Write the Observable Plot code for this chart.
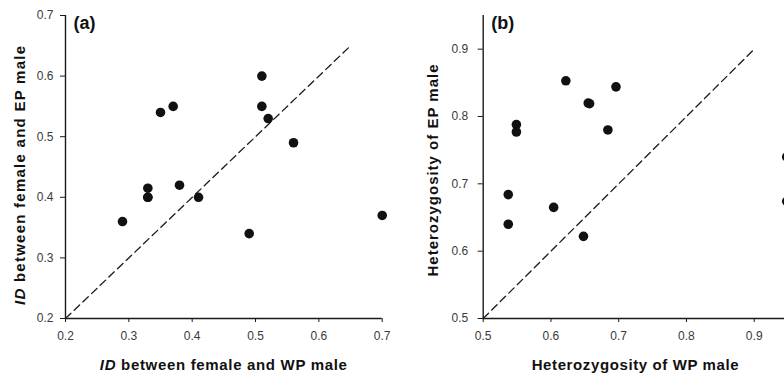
<!DOCTYPE html>
<html><head><meta charset="utf-8">
<script src="https://cdn.jsdelivr.net/npm/d3@7"></script>
<script src="https://cdn.jsdelivr.net/npm/@observablehq/plot@0.6"></script>
<style>
html,body{margin:0;padding:0;background:#fff;}
#wrap{display:flex;width:784px;height:374px;overflow:hidden;}
#wrap svg{flex:none;display:block;}
</style></head><body><div id="wrap"></div>
<script>
// Panel (a): ID between female and WP male (x) vs EP male (y)
const idWP = [0.29, 0.33, 0.33, 0.33, 0.35, 0.37, 0.38, 0.41, 0.49, 0.51, 0.51, 0.52, 0.56, 0.70];
const idEP = [0.36, 0.40, 0.40, 0.415, 0.54, 0.55, 0.42, 0.40, 0.34, 0.60, 0.55, 0.53, 0.49, 0.37];
// Panel (b): heterozygosity of WP male (x) vs EP male (y)
const hetWP = [0.537, 0.537, 0.549, 0.549, 0.604, 0.622, 0.648, 0.655, 0.657, 0.684, 0.696, 0.948, 0.948];
const hetEP = [0.684, 0.640, 0.788, 0.777, 0.665, 0.853, 0.622, 0.820, 0.819, 0.780, 0.844, 0.740, 0.674];
// 1:1 reference lines
const diagA = [0.2, 0.65];
const diagB = [0.5, 0.9];
// axes
const domainA = [0.2, 0.7];
const ticksA = [0.2, 0.3, 0.4, 0.5, 0.6, 0.7];
const domainBx = [0.5, 0.9447];
const domainBy = [0.5, 0.95];
const ticksB = [0.5, 0.6, 0.7, 0.8, 0.9];
const labelA = {x: [["ID", true], [" between female and WP male", false]], y: [["ID", true], [" between female and EP male", false]]};
const labelB = {x: [["Heterozygosity of WP male", false]], y: [["Heterozygosity of EP male", false]]};

const FONT = "'Liberation Sans', Arial, Helvetica, sans-serif";
const INK = "#1a1a1a";

function panel({width, marginLeft, marginRight, xDomain, yDomain, xTicks, yTicks, xs, ys, diag, tag, yPad, clip}) {
  const pts = xs.map((x, i) => ({x, y: ys[i]}));
  return Plot.plot({
    width, height: 374,
    marginLeft, marginRight, marginTop: 15, marginBottom: 56,
    style: {fontFamily: FONT, fontSize: "12px", color: "#3a3a3a", background: "#fff", overflow: "visible"},
    x: {domain: xDomain, ticks: xTicks, tickFormat: d3.format(".1f"), label: null},
    y: {domain: yDomain, ticks: yTicks, tickFormat: d3.format(".1f"), label: null},
    marks: [
      Plot.axisX({ticks: xTicks, tickSize: 4, tickPadding: 9, tickFormat: d3.format(".1f"), label: null, stroke: INK}),
      Plot.axisY({ticks: yTicks, tickSize: 5, tickPadding: yPad, tickFormat: d3.format(".1f"), label: null, stroke: INK}),
      Plot.line(diag, {x: d => d, y: d => d, stroke: INK, strokeWidth: 1.3, strokeDasharray: "7.5,4.5"}),
      Plot.dot(pts, {x: "x", y: "y", r: 4.8, fill: "#111", stroke: "none", clip}),
      Plot.ruleX([xDomain[0]], {stroke: INK, strokeWidth: 1.4}),
      Plot.ruleY([yDomain[0]], {stroke: INK, strokeWidth: 1.4}),
      Plot.text([tag], {frameAnchor: "top-left", dx: 8, dy: 1, lineAnchor: "top", fontSize: 18, fontWeight: "bold", fill: "#111", textAnchor: "start"})
    ]
  });
}

function addLabel(svg, parts, {x, y, rotate, length}) {
  const t = d3.select(svg).append("text")
    .attr("font-family", FONT).attr("font-size", 15).attr("font-weight", "bold")
    .attr("fill", "#111").attr("text-anchor", "middle")
    .attr("textLength", length).attr("lengthAdjust", "spacing")
    .attr("transform", rotate ? `translate(${x},${y}) rotate(-90)` : `translate(${x},${y})`);
  for (const [s, it] of parts) t.append("tspan").attr("font-style", it ? "italic" : "normal").text(s);
}

const wrap = document.getElementById("wrap");

const a = panel({width: 400, marginLeft: 65, marginRight: 18.3, xDomain: domainA, yDomain: domainA,
  xTicks: ticksA, yTicks: ticksA, xs: idWP, ys: idEP, diag: diagA, tag: "(a)", yPad: 7, clip: false});
const ax = a.scale("x"), ay = a.scale("y");
addLabel(a, labelA.x, {x: ax.apply(d3.mean(domainA)), y: 370, rotate: false, length: 247});
addLabel(a, labelA.y, {x: 25, y: (ay.apply(domainA[0]) + ay.apply(domainA[1])) / 2 + 9, rotate: true, length: 259});
wrap.appendChild(a);

const b = panel({width: 384, marginLeft: 82.7, marginRight: 0, xDomain: domainBx, yDomain: domainBy,
  xTicks: ticksB, yTicks: ticksB, xs: hetWP, ys: hetEP, diag: diagB, tag: "(b)", yPad: 10, clip: true});
const bx = b.scale("x"), by = b.scale("y");
addLabel(b, labelB.x, {x: bx.apply(d3.mean(domainBy)), y: 370, rotate: false, length: 207});
addLabel(b, labelB.y, {x: 38, y: (by.apply(domainBy[0]) + by.apply(domainBy[1])) / 2 + 4, rotate: true, length: 212});
wrap.appendChild(b);
</script>
</body></html>
